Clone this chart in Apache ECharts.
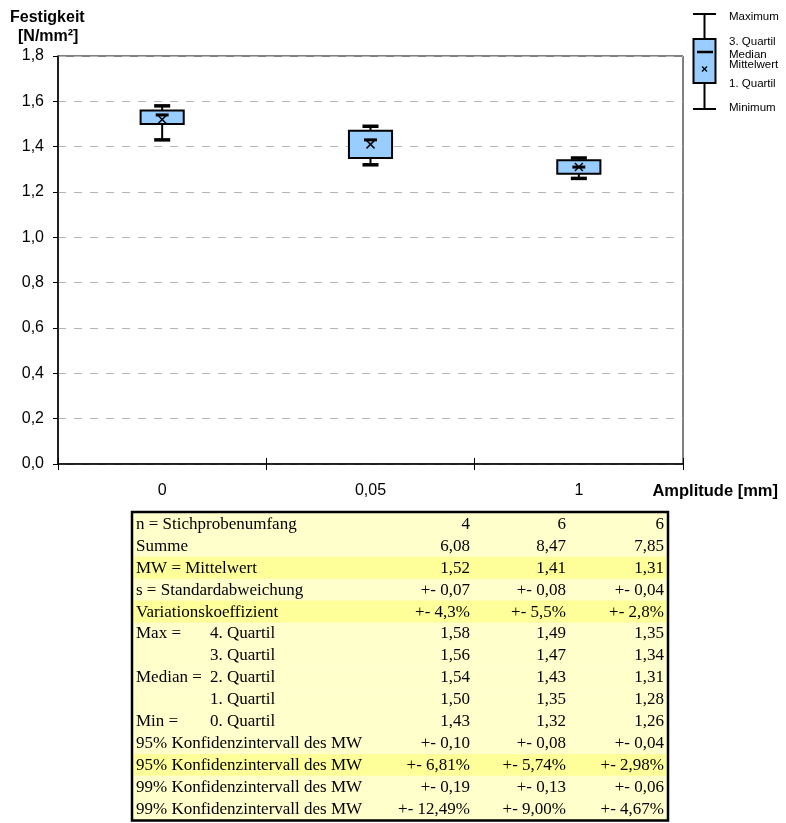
<!DOCTYPE html>
<html>
<head>
<meta charset="utf-8">
<script src="https://cdn.jsdelivr.net/npm/echarts@6/dist/echarts.min.js"></script>
<style>
  html, body { margin: 0; padding: 0; background: #fff; }
  #chart { width: 786px; height: 823px; }
</style>
</head>
<body>
<div id="chart"></div>
<script>
// Amplitude groups (x categories)
const categories = ['0', '0,05', '1'];

// Five-number summary and mean per group [N/mm²]
const maxVals    = [1.58, 1.49, 1.35];
const q3Vals     = [1.56, 1.47, 1.34];
const medianVals = [1.54, 1.43, 1.31];
const q1Vals     = [1.50, 1.35, 1.28];
const minVals    = [1.43, 1.32, 1.26];
const meanVals   = [1.52, 1.41, 1.31];

// Statistics table values
const nVals      = [4, 6, 6];
const sumVals    = [6.08, 8.47, 7.85];
const sdVals     = [0.07, 0.08, 0.04];
const cvVals     = [4.3, 5.5, 2.8];
const ci95Vals   = [0.10, 0.08, 0.04];
const ci95Pct    = [6.81, 5.74, 2.98];
const ci99Vals   = [0.19, 0.13, 0.06];
const ci99Pct    = [12.49, 9.00, 4.67];

// Y axis ticks
const yMin = 0, yMax = 1.8, yStep = 0.2;

const comma = (v, d) => v.toFixed(d).replace('.', ',');

const boxData = categories.map((c, i) =>
  [i, minVals[i], q1Vals[i], medianVals[i], q3Vals[i], maxVals[i], meanVals[i]]);

function renderBox(params, api) {
  const i = api.value(0);
  const pMin = api.coord([i, api.value(1)]);
  const pQ1 = api.coord([i, api.value(2)]);
  const pMed = api.coord([i, api.value(3)]);
  const pQ3 = api.coord([i, api.value(4)]);
  const pMax = api.coord([i, api.value(5)]);
  const pMean = api.coord([i, api.value(6)]);
  const cx = pMed[0];
  const band = api.size([1, 0])[0];
  const bw = band * 0.207;
  const capW = band * 0.077;
  const medW = band * 0.062;
  const m = 4;
  const black = { stroke: '#000', fill: null };
  return {
    type: 'group',
    children: [
      { type: 'line', shape: { x1: cx, y1: pMax[1], x2: cx, y2: pQ3[1] }, style: Object.assign({ lineWidth: 2 }, black) },
      { type: 'line', shape: { x1: cx, y1: pQ1[1], x2: cx, y2: pMin[1] }, style: Object.assign({ lineWidth: 2 }, black) },
      { type: 'line', shape: { x1: cx - capW / 2, y1: pMax[1], x2: cx + capW / 2, y2: pMax[1] }, style: Object.assign({ lineWidth: 3.5 }, black) },
      { type: 'line', shape: { x1: cx - capW / 2, y1: pMin[1], x2: cx + capW / 2, y2: pMin[1] }, style: Object.assign({ lineWidth: 3.5 }, black) },
      { type: 'rect', shape: { x: cx - bw / 2, y: pQ3[1], width: bw, height: pQ1[1] - pQ3[1] },
        style: { fill: '#99CCFF', stroke: '#000', lineWidth: 2 } },
      { type: 'line', shape: { x1: cx - medW / 2, y1: pMed[1], x2: cx + medW / 2, y2: pMed[1] }, style: Object.assign({ lineWidth: 3 }, black) },
      { type: 'line', shape: { x1: cx - m, y1: pMean[1] - m, x2: cx + m, y2: pMean[1] + m }, style: Object.assign({ lineWidth: 1.5 }, black) },
      { type: 'line', shape: { x1: cx - m, y1: pMean[1] + m, x2: cx + m, y2: pMean[1] - m }, style: Object.assign({ lineWidth: 1.5 }, black) }
    ]
  };
}

// ---- statistics table (drawn as graphics below the plot) ----
const pm = (v, d) => '+- ' + comma(v, d);
const pmPct = (v, d) => '+- ' + comma(v, d) + '%';
const tableRows = [
  { label: 'n = Stichprobenumfang', sub: '', values: nVals.map(v => String(v)) },
  { label: 'Summe', sub: '', values: sumVals.map(v => comma(v, 2)) },
  { label: 'MW = Mittelwert', sub: '', values: meanVals.map(v => comma(v, 2)), hl: true },
  { label: 's = Standardabweichung', sub: '', values: sdVals.map(v => pm(v, 2)) },
  { label: 'Variationskoeffizient', sub: '', values: cvVals.map(v => pmPct(v, 1)), hl: true },
  { label: 'Max =', sub: '4. Quartil', values: maxVals.map(v => comma(v, 2)) },
  { label: '', sub: '3. Quartil', values: q3Vals.map(v => comma(v, 2)) },
  { label: 'Median =', sub: '2. Quartil', values: medianVals.map(v => comma(v, 2)) },
  { label: '', sub: '1. Quartil', values: q1Vals.map(v => comma(v, 2)) },
  { label: 'Min =', sub: '0. Quartil', values: minVals.map(v => comma(v, 2)) },
  { label: '95% Konfidenzintervall des MW', sub: '', values: ci95Vals.map(v => pm(v, 2)) },
  { label: '95% Konfidenzintervall des MW', sub: '', values: ci95Pct.map(v => pmPct(v, 2)), hl: true },
  { label: '99% Konfidenzintervall des MW', sub: '', values: ci99Vals.map(v => pm(v, 2)) },
  { label: '99% Konfidenzintervall des MW', sub: '', values: ci99Pct.map(v => pmPct(v, 2)) }
];

const T = { left: 132, top: 512, right: 668, rowH: 21.9, labelX: 136, subX: 210, colRight: [470, 566, 664] };
const tableFont = '17px "Liberation Serif", "Times New Roman", serif';
const tableEls = [];
tableRows.forEach((row, r) => {
  const y = T.top + 1 + r * T.rowH;
  tableEls.push({ type: 'rect', shape: { x: T.left, y: y, width: T.right - T.left, height: T.rowH + 0.5 },
    style: { fill: row.hl ? '#FFFF99' : '#FFFFCC' }, silent: true });
  const cy = y + T.rowH / 2 + 0.5;
  if (row.label) tableEls.push({ type: 'text', x: T.labelX, y: cy,
    style: { text: row.label, font: tableFont, fill: '#000', textAlign: 'left', textVerticalAlign: 'middle' } });
  if (row.sub) tableEls.push({ type: 'text', x: T.subX, y: cy,
    style: { text: row.sub, font: tableFont, fill: '#000', textAlign: 'left', textVerticalAlign: 'middle' } });
  row.values.forEach((v, c) => tableEls.push({ type: 'text', x: T.colRight[c], y: cy,
    style: { text: v, font: tableFont, fill: '#000', textAlign: 'right', textVerticalAlign: 'middle' } }));
});
tableEls.push({ type: 'rect', shape: { x: T.left, y: T.top, width: T.right - T.left, height: T.rowH * tableRows.length + 2 },
  style: { fill: null, stroke: '#000', lineWidth: 2.5 }, silent: true });

// ---- key explaining the box symbol ----
const kx = 704.5;
const keyFont = '11.5px "Liberation Sans", Arial, sans-serif';
const keyLine = (x1, y1, x2, y2, w) => ({ type: 'line', shape: { x1, y1, x2, y2 }, style: { stroke: '#000', lineWidth: w } });
const keyText = (t, y) => ({ type: 'text', x: 729, y: y, style: { text: t, font: keyFont, fill: '#000', textVerticalAlign: 'middle' } });
const keyEls = [
  keyLine(kx, 14, kx, 39, 2),
  keyLine(kx, 83, kx, 109, 2),
  keyLine(693, 14, 716, 14, 2),
  keyLine(693, 109, 716, 109, 2),
  { type: 'rect', shape: { x: 693.5, y: 39, width: 22, height: 44 }, style: { fill: '#99CCFF', stroke: '#000', lineWidth: 2 } },
  keyLine(697, 52, 713, 52, 2.5),
  keyLine(kx - 2.5, 66.5, kx + 2.5, 71.5, 1.2),
  keyLine(kx - 2.5, 71.5, kx + 2.5, 66.5, 1.2),
  keyText('Maximum', 17),
  keyText('3. Quartil', 42),
  keyText('Median', 55),
  keyText('Mittelwert', 65),
  keyText('1. Quartil', 84),
  keyText('Minimum', 108)
];

const axisFont = { fontFamily: '"Liberation Sans", Arial, sans-serif', fontSize: 16, color: '#000' };
const boldFont = 'bold 16px "Liberation Sans", Arial, sans-serif';

const chart = echarts.init(document.getElementById('chart'), null, { renderer: 'canvas' });
chart.setOption({
  animation: false,
  backgroundColor: '#fff',
  grid: { left: 58, right: 103, top: 56, bottom: 359, show: true, borderColor: '#000', borderWidth: 1, backgroundColor: 'transparent' },
  xAxis: [
    {
      type: 'category', data: categories, position: 'bottom',
      axisLine: { lineStyle: { color: '#000', width: 1.5 } },
      axisTick: { show: true, length: 6, lineStyle: { color: '#000', width: 1 } },
      axisLabel: Object.assign({ margin: 19 }, axisFont),
      splitLine: { show: false }
    },
    {
      type: 'category', data: categories, position: 'bottom', gridIndex: 0,
      axisLine: { show: false },
      axisTick: { show: true, inside: true, length: 6, lineStyle: { color: '#000', width: 1 } },
      axisLabel: { show: false },
      splitLine: { show: false }
    }
  ],
  yAxis: {
    type: 'value', min: yMin, max: yMax, interval: yStep,
    axisLine: { show: true, lineStyle: { color: '#000', width: 1.5 } },
    axisTick: { show: true, length: 5, lineStyle: { color: '#000', width: 1 } },
    axisLabel: Object.assign({ margin: 14, formatter: v => comma(v, 1) }, axisFont),
    splitLine: { show: true, lineStyle: { color: '#b4b4b4', type: [8, 8], width: 1 } }
  },
  series: [{
    type: 'custom',
    renderItem: renderBox,
    data: boxData,
    encode: { x: 0, y: [1, 2, 3, 4, 5, 6] },
    z: 5
  }],
  graphic: [
    { type: 'text', x: 10, y: 18, style: { text: 'Festigkeit', font: boldFont, fill: '#000', textVerticalAlign: 'middle' } },
    { type: 'text', x: 18, y: 37, style: { text: '[N/mm²]', font: boldFont, fill: '#000', textVerticalAlign: 'middle' } },
    { type: 'text', x: 778, y: 491, style: { text: 'Amplitude [mm]', font: 'bold 16.5px "Liberation Sans", Arial, sans-serif', fill: '#000', textAlign: 'right', textVerticalAlign: 'middle' } },
    { type: 'group', children: keyEls },
    { type: 'group', children: tableEls }
  ]
});
</script>
</body>
</html>
